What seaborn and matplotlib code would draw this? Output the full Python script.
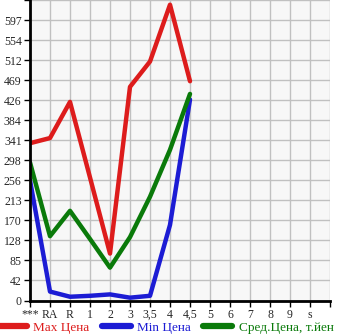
import numpy as np
import pandas as pd
import matplotlib
matplotlib.use("Agg")
import matplotlib.pyplot as plt
import seaborn as sns
from matplotlib.lines import Line2D

categories = ["***", "RA", "R", "1", "2", "3", "3,5", "4", "4,5", "5", "6", "7", "8", "9", "s"]
data_cats = ["***", "RA", "R", "1", "2", "3", "3,5", "4", "4,5"]
max_price = [335, 346, 423, 262, 100, 455, 509, 630, 467]
min_price = [256, 19, 8, 10, 13, 6, 10, 161, 428]
avg_price = [294, 137, 191, 131, 70, 135, 221, 321, 440]
series_names = ["Max Цена", "Min Цена", "Сред.Цена, т.йен"]
ytick_values = [0, 42.67, 85.33, 128, 170.67, 213.33, 256, 298.67, 341.33, 384,
                426.67, 469.33, 512, 554.67, 597.33]
ytick_labels = ["0", "42", "85", "128", "170", "213", "256", "298", "341", "384",
                "426", "469", "512", "554", "597"]

colors = ["#dd1c1c", "#1c1cd4", "#0a7a0a"]

sns.set_style("white")
plt.rcParams["font.family"] = ["Liberation Serif", "DejaVu Serif"]

pos_map = {c: i for i, c in enumerate(categories)}
rows = []
for name, vals in zip(series_names, [max_price, min_price, avg_price]):
    for c, v in zip(data_cats, vals):
        rows.append({"pos": pos_map[c], "value": v, "series": name})
df = pd.DataFrame(rows)

fig = plt.figure(figsize=(3.45, 3.35), dpi=100)
ax = fig.add_axes([30 / 345, (335 - 300.5) / 335, 300 / 345, 300.5 / 335])
ax.set_facecolor("#f7f7f7")

sns.lineplot(data=df, x="pos", y="value", hue="series", palette=colors,
             hue_order=series_names, linewidth=3.2, ax=ax, legend=False,
             sort=False, solid_capstyle="round", solid_joinstyle="round")

ax.set_xlim(0, len(categories))
ax.set_ylim(0, 640)
ax.set_xticks(np.arange(0, len(categories) + 1))
ax.set_xticklabels(categories + [""])
ax.set_yticks(ytick_values + [640])
ax.set_yticklabels(ytick_labels + [""])
ax.grid(True, color="#c0c0c0", linewidth=1.0)
ax.set_axisbelow(True)
ax.set_xlabel("")
ax.set_ylabel("")
for s in ["top", "right"]:
    ax.spines[s].set_visible(False)
for s in ["left", "bottom"]:
    ax.spines[s].set_color("black")
    ax.spines[s].set_linewidth(2)
ax.tick_params(axis="both", which="major", length=4, width=1, color="black",
               labelsize=8.5, pad=2, direction="out", bottom=True, left=True)

handles = [Line2D([0], [0], color=c, linewidth=4.5, solid_capstyle="round") for c in colors]
leg = fig.legend(handles, series_names, loc="center", ncol=3, frameon=False,
                 bbox_to_anchor=(0.48, 7.5 / 335), fontsize=9.5, handlelength=2.2,
                 handletextpad=0.5, columnspacing=0.9, borderpad=0, borderaxespad=0)
for t, c in zip(leg.get_texts(), colors):
    t.set_color(c)

fig.savefig("out.png", dpi=100)
